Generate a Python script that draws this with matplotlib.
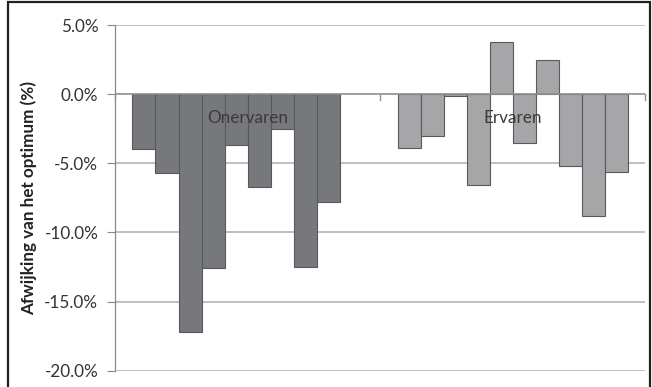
import numpy as np
import matplotlib.pyplot as plt
from matplotlib.patches import Rectangle
from matplotlib.ticker import FuncFormatter

plt.rcParams['font.family'] = ['Lato', 'DejaVu Sans']

# afwijking per proefpersoon (%), NaN = geen waarde
groups = ['Onervaren', 'Ervaren']
onervaren = [-4.0, -5.7, -17.2, -12.6, -3.7, -6.7, -2.5, -12.5, -7.8, np.nan]
ervaren = [-3.9, -3.0, -0.15, -6.6, 3.8, -3.5, 2.5, -5.2, -8.8, -5.6]
colors = ['#77787c', '#a6a6a9']
yticks = [5, 0, -5, -10, -15, -20]

fig = plt.figure(figsize=(6.52, 3.87), dpi=100)
ax = fig.add_axes([0.1764, 0.0421, 0.8129, 0.8933])

n = len(onervaren)
gap = 1.52
width = 1.0 / (n + gap)
for gi, (vals, col) in enumerate(zip([onervaren, ervaren], colors)):
    start = gi + gap * width / 2
    for i, v in enumerate(vals):
        if np.isnan(v):
            continue
        ax.bar(start + i * width, v, width=width, align='edge', bottom=0,
               color=col, edgecolor='#58595c', linewidth=0.8, zorder=3)
    ax.text(gi + 0.5, -1.75, groups[gi], ha='center', va='center',
            fontsize=12.3, color='#3a3a3a', zorder=4)

ax.set_xlim(0, 2)
ax.set_ylim(-20, 5)
ax.set_yticks(yticks)
ax.yaxis.set_major_formatter(FuncFormatter(lambda v, p: f'{v:.1f}%'))
ax.tick_params(axis='y', length=6, width=0.8, color='#888888', labelsize=12.3,
               labelcolor='#333333', pad=6)
ax.set_xticks([])
for y in yticks:
    if y != 0:
        ax.axhline(y, color='#b4b4b4', lw=1.2, zorder=1)
ax.axhline(0, color='#909090', lw=1.2, zorder=4)
# streepjes op de categorie-as
for x in [0, 1, 2]:
    ax.plot([x, x], [0, -0.45], color='#909090', lw=1.0, zorder=4, clip_on=False)

for s in ['top', 'right', 'bottom']:
    ax.spines[s].set_visible(False)
ax.spines['left'].set_color('#888888')
ax.spines['left'].set_linewidth(0.9)

ax.set_ylabel('Afwijking van het optimum (%)', fontsize=12.3, fontweight='bold',
              color='#222222', labelpad=5)

# kader rond de figuur
fig.patches.append(Rectangle((8 / 652, -0.02), 642 / 652, 1 - 2 / 387 + 0.02,
                             transform=fig.transFigure, fill=False,
                             edgecolor='#222222', lw=1.6))

fig.savefig('out.png', dpi=100)
